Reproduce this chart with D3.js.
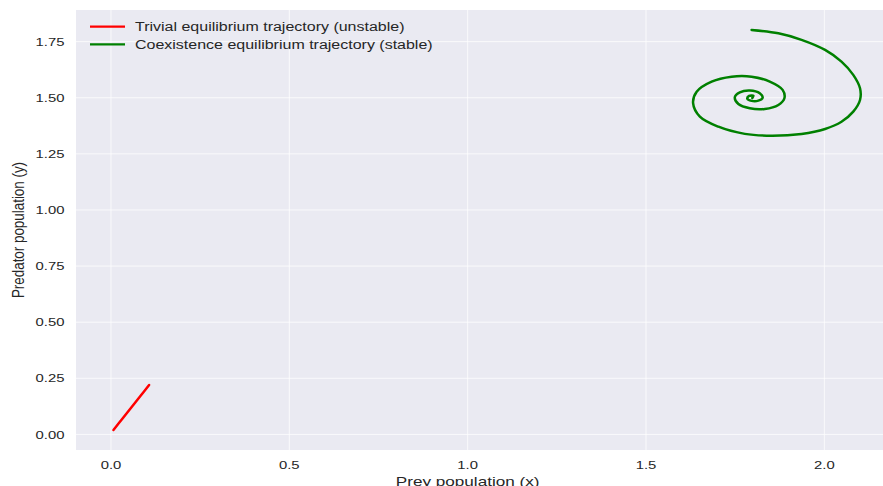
<!DOCTYPE html>
<html>
<head>
<meta charset="utf-8">
<script src="https://cdn.jsdelivr.net/npm/d3@7"></script>
<style>
  html, body { margin: 0; padding: 0; background: #ffffff; overflow: hidden; }
  svg { display: block; }
  text { font-family: "Liberation Sans", Arial, "DejaVu Sans", sans-serif; fill: #262626; }
</style>
</head>
<body>
<svg id="chart" width="883" height="486"></svg>
<script>
// Phase-plane trajectories of a predator–prey system: [prey x, predator y]
const trivialTrajectory = [
  [0.007, 0.020], [0.032, 0.070], [0.057, 0.120], [0.082, 0.170], [0.107, 0.220]
];
const coexistenceTrajectory = [
  [1.796, 1.802], [1.871, 1.787], [1.936, 1.758], [2.002, 1.713], [2.048, 1.661],
  [2.081, 1.602], [2.100, 1.542], [2.100, 1.490], [2.081, 1.438], [2.048, 1.393],
  [2.002, 1.361], [1.936, 1.339], [1.852, 1.331], [1.777, 1.339], [1.703, 1.371],
  [1.651, 1.416], [1.632, 1.476], [1.642, 1.527], [1.684, 1.572], [1.740, 1.594],
  [1.796, 1.594], [1.847, 1.572], [1.883, 1.535], [1.888, 1.498], [1.871, 1.468],
  [1.833, 1.450], [1.791, 1.453], [1.759, 1.472], [1.749, 1.502], [1.763, 1.524],
  [1.791, 1.532], [1.819, 1.520], [1.827, 1.500], [1.815, 1.487], [1.796, 1.486],
  [1.784, 1.496], [1.789, 1.508], [1.801, 1.509], [1.798, 1.499]
];
const xTicks = [0.0, 0.5, 1.0, 1.5, 2.0];
const yTicks = [0.00, 0.25, 0.50, 0.75, 1.00, 1.25, 1.50, 1.75];
const seriesNames = ["Trivial equilibrium trajectory (unstable)", "Coexistence equilibrium trajectory (stable)"];
const seriesColors = ["#ff0000", "#008000"];
const xLabel = "Prey population (x)";
const yLabel = "Predator population (y)";

const svg = d3.select("#chart");
const plot = { left: 76, top: 10, bottom: 450 };
const stretch = 1.28;          // horizontal glyph stretch of the figure text

const x = d3.scaleLinear().domain([-0.098, 2.2]).range([plot.left, plot.left + 2.298 * 356.7]);
const y = d3.scaleLinear().domain([-0.0695, 1.891]).range([plot.bottom, plot.top]);

// axes background
svg.append("rect")
  .attr("x", plot.left).attr("y", plot.top)
  .attr("width", x.range()[1] - plot.left).attr("height", plot.bottom - plot.top)
  .attr("fill", "#eaeaf2");

// grid
const grid = svg.append("g").attr("stroke", "#ffffff").attr("stroke-width", 1).attr("stroke-opacity", 0.75);
grid.selectAll("line.gx").data(xTicks).join("line")
  .attr("x1", d => x(d)).attr("x2", d => x(d))
  .attr("y1", plot.top).attr("y2", plot.bottom);
grid.selectAll("line.gy").data(yTicks).join("line")
  .attr("x1", plot.left).attr("x2", x.range()[1])
  .attr("y1", d => y(d)).attr("y2", d => y(d));

// tick labels
const tickSize = 11.6;
svg.append("g").selectAll("text").data(xTicks).join("text")
  .attr("transform", d => `translate(${x(d)},468.5) scale(${stretch},1)`)
  .attr("text-anchor", "middle")
  .attr("font-size", tickSize)
  .text(d => d3.format(".1f")(d));
svg.append("g").selectAll("text").data(yTicks).join("text")
  .attr("transform", d => `translate(64.5,${y(d) + 4.1}) scale(${stretch},1)`)
  .attr("text-anchor", "end")
  .attr("font-size", tickSize)
  .text(d => d3.format(".2f")(d));

// axis titles
svg.append("text")
  .attr("transform", `translate(${x(1.0)},485.5) scale(${stretch},1)`)
  .attr("text-anchor", "middle")
  .attr("font-size", 13.4)
  .text(xLabel);
svg.append("text")
  .attr("transform", `translate(24,${(plot.top + plot.bottom) / 2}) rotate(-90) scale(1,${stretch})`)
  .attr("text-anchor", "middle")
  .attr("font-size", 13.4)
  .text(yLabel);

// trajectories
const line = d3.line().x(d => x(d[0])).y(d => y(d[1])).curve(d3.curveCatmullRom.alpha(0.5));
svg.append("clipPath").attr("id", "plotClip")
  .append("rect").attr("x", plot.left).attr("y", plot.top)
  .attr("width", x.range()[1] - plot.left).attr("height", plot.bottom - plot.top);
const traj = svg.append("g").attr("clip-path", "url(#plotClip)");
[trivialTrajectory, coexistenceTrajectory].forEach((pts, i) => {
  traj.append("path")
    .attr("d", line(pts))
    .attr("fill", "none")
    .attr("stroke", seriesColors[i])
    .attr("stroke-width", 2.5)
    .attr("stroke-linecap", "round")
    .attr("stroke-linejoin", "round");
});

// legend
const legend = svg.append("g");
seriesNames.forEach((name, i) => {
  const ly = 26.7 + i * 17.7;
  legend.append("line")
    .attr("x1", 90).attr("x2", 125).attr("y1", ly).attr("y2", ly)
    .attr("stroke", seriesColors[i]).attr("stroke-width", 2.2);
  legend.append("text")
    .attr("transform", `translate(135,${ly + 4.5}) scale(${stretch},1)`)
    .attr("font-size", 12.5)
    .text(name);
});
</script>
</body>
</html>
